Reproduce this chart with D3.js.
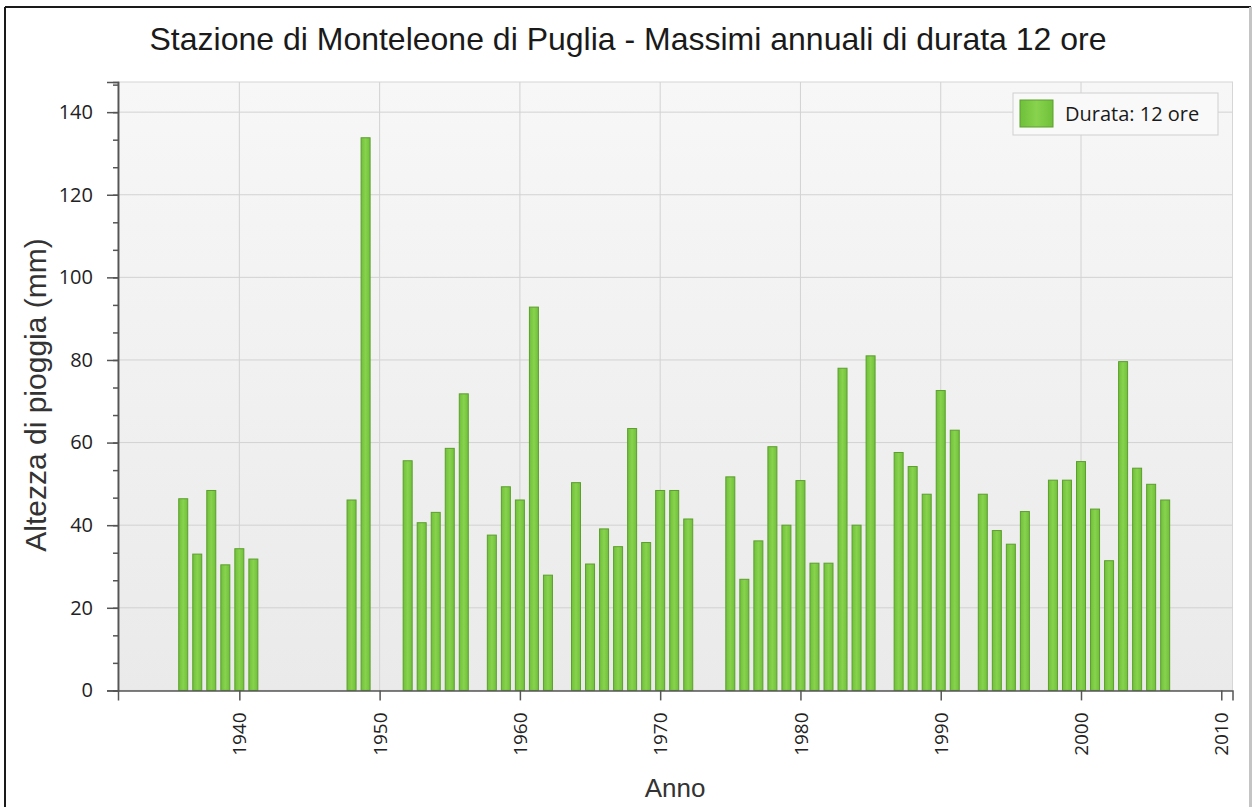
<!DOCTYPE html>
<html>
<head>
<meta charset="utf-8">
<script src="https://cdn.jsdelivr.net/npm/d3@7"></script>
<style>
  body { margin: 0; background: #fff; }
  svg { display: block; }
</style>
</head>
<body>
<svg id="chart"></svg>
<script>
"use strict";

// data
const years = [1936, 1937, 1938, 1939, 1940, 1941, 1948, 1949, 1952, 1953, 1954, 1955, 1956,
  1958, 1959, 1960, 1961, 1962, 1964, 1965, 1966, 1967, 1968, 1969, 1970, 1971, 1972,
  1975, 1976, 1977, 1978, 1979, 1980, 1981, 1982, 1983, 1984, 1985, 1987, 1988, 1989,
  1990, 1991, 1993, 1994, 1995, 1996, 1998, 1999, 2000, 2001, 2002, 2003, 2004, 2005, 2006];
const rainMm = [46.4, 33.0, 48.4, 30.4, 34.3, 31.8, 46.1, 133.8, 55.6, 40.6, 43.1, 58.6, 71.8,
  37.6, 49.3, 46.1, 92.8, 27.9, 50.3, 30.6, 39.1, 34.8, 63.4, 35.8, 48.4, 48.4, 41.5,
  51.7, 26.9, 36.2, 59.0, 40.0, 50.8, 30.8, 30.8, 78.0, 40.0, 81.0, 57.6, 54.2, 47.5,
  72.6, 63.0, 47.5, 38.7, 35.4, 43.3, 50.9, 50.9, 55.4, 43.9, 31.4, 79.6, 53.8, 49.9, 46.1];
const yTicks = [0, 20, 40, 60, 80, 100, 120, 140];
const xTicks = [1940, 1950, 1960, 1970, 1980, 1990, 2000, 2010];

const titleText = "Stazione di Monteleone di Puglia - Massimi annuali di durata 12 ore";
const seriesName = "Durata: 12 ore";

const W = 1254, H = 807;
const plot = {left: 118, top: 82, right: 1232.5, bottom: 690.4};

const svg = d3.select("#chart").attr("width", W).attr("height", H);

const defs = svg.append("defs");
const bg = defs.append("linearGradient").attr("id", "plotBg")
  .attr("x1", 0).attr("y1", 0).attr("x2", 0).attr("y2", 1);
bg.append("stop").attr("offset", "0%").attr("stop-color", "#f7f7f7");
bg.append("stop").attr("offset", "100%").attr("stop-color", "#eaeaea");

const barGrad = defs.append("linearGradient").attr("id", "barFill")
  .attr("x1", 0).attr("y1", 0).attr("x2", 1).attr("y2", 0);
barGrad.append("stop").attr("offset", "0%").attr("stop-color", "#6fc03a");
barGrad.append("stop").attr("offset", "50%").attr("stop-color", "#88d24e");
barGrad.append("stop").attr("offset", "100%").attr("stop-color", "#6fc03a");

// outer frame (window edges)
svg.append("line").attr("x1", 5).attr("y1", 7).attr("x2", 5).attr("y2", H)
  .attr("stroke", "#1a1a1a").attr("stroke-width", 2);
svg.append("line").attr("x1", 5).attr("y1", 7).attr("x2", 1251).attr("y2", 7)
  .attr("stroke", "#1a1a1a").attr("stroke-width", 2);
svg.append("line").attr("x1", 1250.5).attr("y1", 7).attr("x2", 1250.5).attr("y2", H)
  .attr("stroke", "#c4c4c4").attr("stroke-width", 3);

const x = d3.scaleLinear().domain([1931.35, 2010.8]).range([plot.left, plot.right]);
const y = d3.scaleLinear().domain([0, 147.3]).range([plot.bottom, plot.top]);

// plot background
svg.append("rect")
  .attr("x", plot.left).attr("y", plot.top)
  .attr("width", plot.right - plot.left).attr("height", plot.bottom - plot.top)
  .attr("fill", "url(#plotBg)").attr("stroke", "#d6d6d6");

// grid
svg.append("g").selectAll("line").data(yTicks.slice(1)).join("line")
  .attr("x1", plot.left).attr("x2", plot.right)
  .attr("y1", d => y(d)).attr("y2", d => y(d))
  .attr("stroke", "#d2d2d2");
svg.append("g").selectAll("line").data(xTicks.slice(0, -1)).join("line")
  .attr("y1", plot.top).attr("y2", plot.bottom)
  .attr("x1", d => x(d)).attr("x2", d => x(d))
  .attr("stroke", "#d2d2d2");

// bars
const barW = 9;
svg.append("g").selectAll("rect").data(years).join("rect")
  .attr("x", (d) => x(d) - barW / 2)
  .attr("y", (d, i) => y(rainMm[i]))
  .attr("width", barW)
  .attr("height", (d, i) => y(0) - y(rainMm[i]))
  .attr("fill", "url(#barFill)")
  .attr("stroke", "#5c9f2c").attr("stroke-width", 1);

// y axis
const tickFont = "'Open Sans', 'Noto Sans', sans-serif";
const yMinor = svg.append("g").attr("transform", `translate(${plot.left},0)`)
  .call(d3.axisLeft(y).tickValues(d3.range(0, 147.3, 20 / 3)).tickSize(5).tickFormat(""));
const yAxis = svg.append("g").attr("transform", `translate(${plot.left},0)`)
  .call(d3.axisLeft(y).tickValues(yTicks).tickSize(11).tickPadding(14));
yAxis.selectAll("text").style("font-family", tickFont).style("font-size", "20px").attr("fill", "#222");
[yMinor, yAxis].forEach(g => {
  g.select(".domain").attr("stroke", "#555").attr("stroke-width", 1.5);
  g.selectAll(".tick line").attr("stroke", "#555").attr("stroke-width", 1.5);
});

// x axis
const xAxis = svg.append("g").attr("transform", `translate(0,${plot.bottom})`)
  .call(d3.axisBottom(x).tickValues(xTicks).tickSize(10).tickFormat(d3.format("d")));
xAxis.select(".domain").attr("stroke", "#555").attr("stroke-width", 1.5);
xAxis.selectAll(".tick line").attr("stroke", "#555").attr("stroke-width", 1.5);
xAxis.selectAll("text")
  .attr("transform", "rotate(-90)")
  .attr("x", -22).attr("y", 0).attr("dy", "0.35em")
  .style("text-anchor", "end")
  .style("font-family", tickFont).style("font-size", "19px").attr("fill", "#222");

// title and axis labels
svg.append("text").attr("x", 628).attr("y", 50)
  .attr("text-anchor", "middle")
  .style("font-family", "'Liberation Sans', Arial, sans-serif").style("font-size", "32px")
  .attr("fill", "#1a1a1a").text(titleText);

svg.append("text")
  .attr("transform", `translate(46,395) rotate(-90)`)
  .attr("text-anchor", "middle")
  .style("font-family", "'Liberation Sans', Arial, sans-serif").style("font-size", "30px")
  .attr("fill", "#333").text("Altezza di pioggia (mm)");

svg.append("text").attr("x", 675).attr("y", 797)
  .attr("text-anchor", "middle")
  .style("font-family", "'Liberation Sans Narrow', 'Liberation Sans', sans-serif").style("font-size", "26px")
  .attr("fill", "#333").text("Anno");

// legend
const legend = svg.append("g").attr("transform", "translate(1013,93)");
legend.append("rect").attr("width", 205).attr("height", 42)
  .attr("fill", "#f9f9f9").attr("stroke", "#cfcfcf");
legend.append("rect").attr("x", 7).attr("y", 7).attr("width", 33).attr("height", 27)
  .attr("fill", "url(#barFill)").attr("stroke", "#5c9f2c");
legend.append("text").attr("x", 52).attr("y", 28)
  .style("font-family", tickFont).style("font-size", "20px")
  .attr("fill", "#1a1a1a").text(seriesName);
</script>
</body>
</html>
